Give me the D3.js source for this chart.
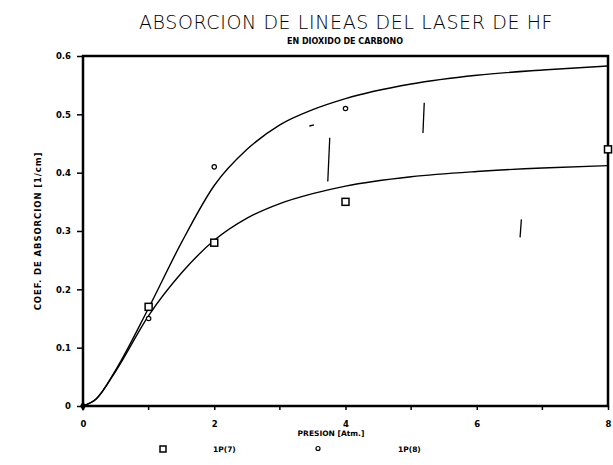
<!DOCTYPE html>
<html>
<head>
<meta charset="utf-8">
<script src="https://cdn.jsdelivr.net/npm/d3@7"></script>
<style>
  body { margin: 0; background: #fff; }
  text { font-family: "DejaVu Sans", sans-serif; fill: #000; }
</style>
</head>
<body>
<div id="chart"></div>
<script>
// datos del grafico
const curveX = [0, 0.2, 0.5, 1, 1.5, 2, 2.5, 3, 3.5, 4, 5, 6, 7, 8];
const curveP8 = [0, 0.012, 0.062, 0.168, 0.28, 0.378, 0.44, 0.482, 0.508, 0.527, 0.552, 0.567, 0.576, 0.583];
const curveP7 = [0, 0.012, 0.06, 0.155, 0.228, 0.284, 0.322, 0.347, 0.364, 0.377, 0.393, 0.402, 0.408, 0.412];

const p7X = [1, 2, 4, 8];
const p7Y = [0.17, 0.28, 0.35, 0.44];
const p8X = [1, 2, 4];
const p8Y = [0.15, 0.41, 0.51];

// marcas sueltas del escaneo (x0, y0, x1, y1)
const scanMarks = [
  [3.76, 0.46, 3.73, 0.385],
  [5.2, 0.52, 5.18, 0.468],
  [6.68, 0.32, 6.66, 0.289],
  [3.45, 0.48, 3.52, 0.482]
];

const xTicks = [0, 2, 4, 6, 8];
const xMinor = [1, 3, 5, 7];
const yTicks = [0, 0.1, 0.2, 0.3, 0.4, 0.5, 0.6];

const width = 613, height = 465;
const margin = { left: 83, right: 5, top: 56, bottom: 59 };

const svg = d3.select("#chart").append("svg")
  .attr("width", width)
  .attr("height", height);

const x = d3.scaleLinear().domain([0, 8]).range([margin.left, width - margin.right]);
const y = d3.scaleLinear().domain([0, 0.6]).range([height - margin.bottom, margin.top]);

// titulos
svg.append("text")
  .attr("x", 346).attr("y", 29)
  .attr("text-anchor", "middle")
  .attr("font-size", "19px")
  .attr("font-weight", "300")
  .attr("letter-spacing", "0.6px")
  .text("ABSORCION DE LINEAS DEL LASER DE HF");

svg.append("text")
  .attr("x", 345).attr("y", 44)
  .attr("text-anchor", "middle")
  .attr("font-size", "8px")
  .attr("font-weight", "bold")
  .text("EN DIOXIDO DE CARBONO");

// marco
svg.append("rect")
  .attr("x", x(0)).attr("y", y(0.6))
  .attr("width", x(8) - x(0))
  .attr("height", y(0) - y(0.6))
  .attr("fill", "none")
  .attr("stroke", "#000")
  .attr("stroke-width", 2.5);

// eje y
const yAxis = svg.append("g")
  .attr("transform", `translate(${x(0)},0)`)
  .call(d3.axisLeft(y).tickValues(yTicks).tickSize(6).tickPadding(6)
    .tickFormat(d => d === 0 ? "0" : d3.format(".1f")(d)));
yAxis.select(".domain").remove();
yAxis.selectAll("line").attr("stroke-width", 1.5);
yAxis.selectAll("text")
  .attr("font-size", "8.5px")
  .attr("font-weight", "bold")
  .style("font-family", "DejaVu Sans");

// eje x
const xAxis = svg.append("g")
  .attr("transform", `translate(0,${y(0)})`)
  .call(d3.axisBottom(x).tickValues(xTicks).tickSize(4).tickPadding(11).tickFormat(d3.format("d")));
xAxis.select(".domain").remove();
xAxis.selectAll("line").attr("stroke-width", 1.5);
xAxis.selectAll("text")
  .attr("font-size", "8.5px")
  .attr("font-weight", "bold")
  .style("font-family", "DejaVu Sans");

svg.append("g").selectAll("line")
  .data(xMinor)
  .enter().append("line")
  .attr("x1", d => x(d)).attr("x2", d => x(d))
  .attr("y1", y(0)).attr("y2", y(0) + 4)
  .attr("stroke", "#000").attr("stroke-width", 1.5);

// curvas
const line = d3.line()
  .x((d, i) => x(curveX[i]))
  .y(d => y(d))
  .curve(d3.curveMonotoneX);

[curveP8, curveP7].forEach(c => {
  svg.append("path")
    .attr("d", line(c))
    .attr("fill", "none")
    .attr("stroke", "#000")
    .attr("stroke-width", 1.4);
});

// marcas del escaneo
svg.append("g").selectAll("line")
  .data(scanMarks)
  .enter().append("line")
  .attr("x1", d => x(d[0])).attr("y1", d => y(d[1]))
  .attr("x2", d => x(d[2])).attr("y2", d => y(d[3]))
  .attr("stroke", "#000").attr("stroke-width", 1.3);

// puntos 1P(7)
svg.append("g").selectAll("rect")
  .data(p7X)
  .enter().append("rect")
  .attr("x", d => x(d) - 3.5)
  .attr("y", (d, i) => y(p7Y[i]) - 3.5)
  .attr("width", 7).attr("height", 7)
  .attr("fill", "#fff")
  .attr("stroke", "#000")
  .attr("stroke-width", 1.5);

// puntos 1P(8)
svg.append("g").selectAll("circle")
  .data(p8X)
  .enter().append("circle")
  .attr("cx", d => x(d))
  .attr("cy", (d, i) => y(p8Y[i]))
  .attr("r", 2.2)
  .attr("fill", "#fff")
  .attr("stroke", "#000")
  .attr("stroke-width", 1.2);

// punto en el origen
svg.append("path")
  .attr("d", d3.symbol(d3.symbolDiamond, 30)())
  .attr("transform", `translate(${x(0)},${y(0)})`)
  .attr("fill", "#000");

// etiquetas de ejes
svg.append("text")
  .attr("transform", `translate(41,${(y(0) + y(0.6)) / 2}) rotate(-90)`)
  .attr("text-anchor", "middle")
  .attr("font-size", "8.5px")
  .attr("font-weight", "bold")
  .attr("letter-spacing", "0.9px")
  .text("COEF. DE ABSORCION [1/cm]");

svg.append("text")
  .attr("x", 331).attr("y", 436)
  .attr("text-anchor", "middle")
  .attr("font-size", "7.5px")
  .attr("font-weight", "bold")
  .text("PRESION [Atm.]");

// leyenda
svg.append("rect")
  .attr("x", 160).attr("y", 446)
  .attr("width", 6).attr("height", 6)
  .attr("fill", "#fff").attr("stroke", "#000").attr("stroke-width", 1.5);
svg.append("text")
  .attr("x", 213).attr("y", 452)
  .attr("font-size", "7.5px").attr("font-weight", "bold")
  .text("1P(7)");
svg.append("circle")
  .attr("cx", 318).attr("cy", 448.5)
  .attr("r", 2)
  .attr("fill", "#fff").attr("stroke", "#000").attr("stroke-width", 1.2);
svg.append("text")
  .attr("x", 398).attr("y", 452)
  .attr("font-size", "7.5px").attr("font-weight", "bold")
  .text("1P(8)");
</script>
</body>
</html>
